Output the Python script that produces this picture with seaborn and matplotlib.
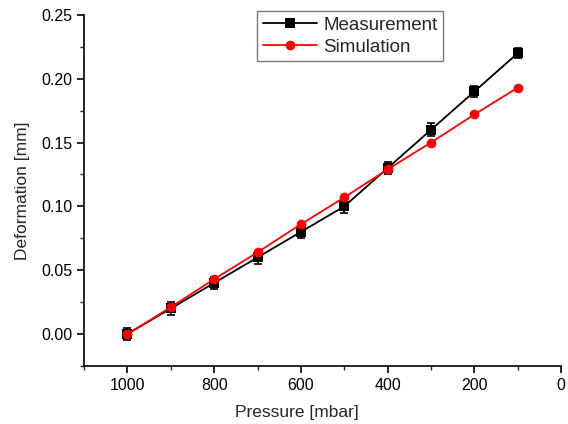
import pandas as pd
import matplotlib
matplotlib.use('Agg')
import matplotlib.pyplot as plt
import seaborn as sns

pressure = [1000, 900, 800, 700, 600, 500, 400, 300, 200, 100]
measurement = [0.0, 0.020, 0.040, 0.060, 0.080, 0.100, 0.130, 0.160, 0.190, 0.220]
meas_err = [0.005, 0.005, 0.005, 0.005, 0.005, 0.005, 0.005, 0.005, 0.004, 0.004]
simulation = [0.0, 0.021, 0.043, 0.064, 0.086, 0.107, 0.129, 0.150, 0.172, 0.193]

sns.set_style('ticks')
plt.rcParams['font.family'] = ['Liberation Sans', 'DejaVu Sans']

df = pd.DataFrame({'pressure': pressure, 'Measurement': measurement, 'Simulation': simulation})

fig = plt.figure(figsize=(5.68, 4.24), dpi=100)
ax = fig.add_axes([0.148, 0.137, 0.84, 0.828])

ax.errorbar(pressure, measurement, yerr=meas_err, fmt='none', ecolor='black',
            elinewidth=1.2, capsize=3, capthick=1.2, zorder=2)
sns.lineplot(data=df, x='pressure', y='Measurement', ax=ax, color='black', marker='s',
             markersize=6.5, markeredgewidth=0, linewidth=1.3, label='Measurement', sort=False, zorder=3)
sns.lineplot(data=df, x='pressure', y='Simulation', ax=ax, color='red', marker='o',
             markersize=7, markeredgewidth=0, linewidth=1.3, label='Simulation', sort=False, zorder=4)

ax.set_xlim(1100, 0)
ax.set_ylim(-0.025, 0.25)
ax.set_xticks([1000, 800, 600, 400, 200, 0])
ax.set_xticks([1100, 900, 700, 500, 300, 100], minor=True)
ax.set_yticks([0.0, 0.05, 0.10, 0.15, 0.20, 0.25])
ax.set_yticklabels(['0.00', '0.05', '0.10', '0.15', '0.20', '0.25'])
ax.set_yticks([-0.025, 0.025, 0.075, 0.125, 0.175, 0.225], minor=True)
ax.tick_params(axis='both', which='major', direction='out', length=5, width=1.2, labelsize=11.5, colors='black')
ax.tick_params(axis='both', which='minor', direction='out', length=3, width=1.0)
for s in ['left', 'bottom']:
    ax.spines[s].set_linewidth(1.2)
    ax.spines[s].set_color('black')
sns.despine(ax=ax)

ax.set_xlabel('Pressure [mbar]', fontsize=12.5)
ax.xaxis.set_label_coords(0.447, -0.11)
ax.set_ylabel('Deformation [mm]', fontsize=12.5, labelpad=8)

leg = ax.legend(loc='upper left', bbox_to_anchor=(257 / 568, 413 / 424), bbox_transform=fig.transFigure,
                borderaxespad=0, fontsize=13.5, frameon=True, fancybox=False, edgecolor='#555555',
                handlelength=2.9, handletextpad=0.35, borderpad=0.3, labelspacing=0.25)
leg.get_frame().set_linewidth(1.0)

fig.savefig('out.png', dpi=100)
